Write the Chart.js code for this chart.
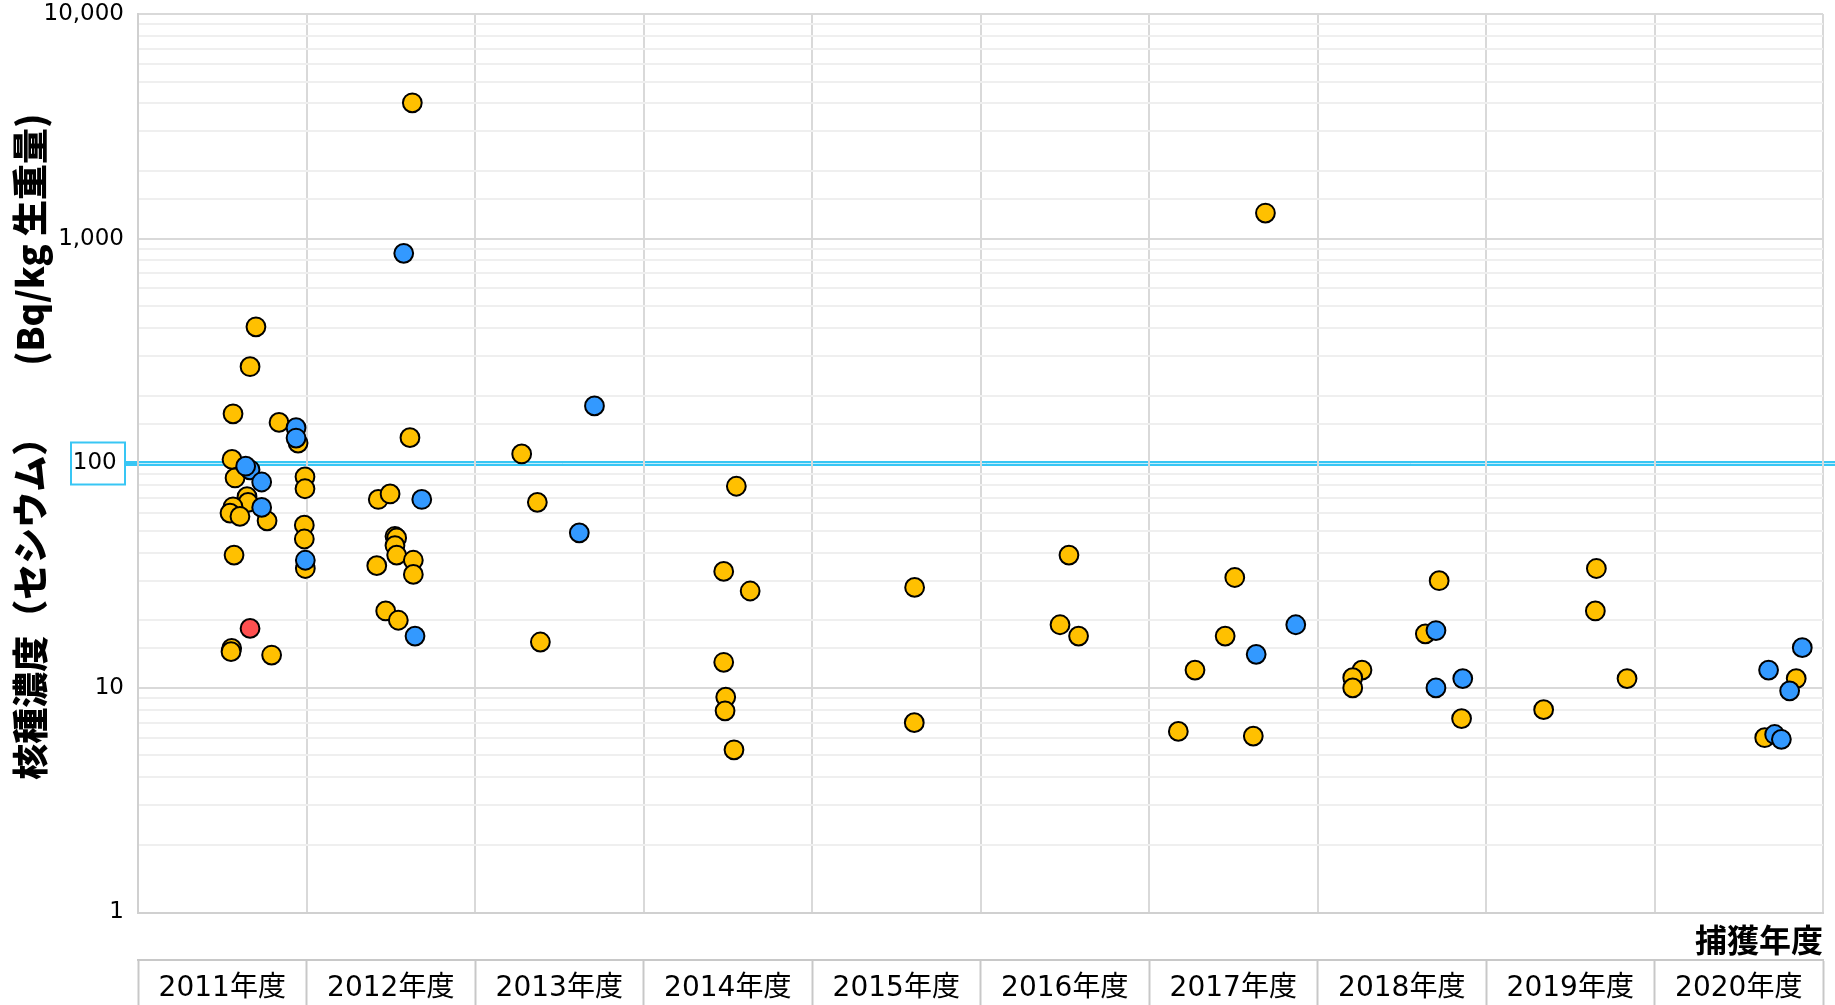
<!DOCTYPE html>
<html lang="ja">
<head>
<meta charset="utf-8">
<title>核種濃度（セシウム）捕獲年度別</title>
<script src="https://cdn.jsdelivr.net/npm/chart.js@4.4.1/dist/chart.umd.min.js"></script>
<style>
    html, body { margin: 0; padding: 0; background: #fff; }
    #wrap { width: 1835px; height: 1005px; }
</style>
</head>
<body>
<div id="wrap"><canvas id="chart" width="1835" height="1005"></canvas></div>
<script>
// ─── Данные ────────────────────────────────────────────────────────────────

const categories = ["2011年度", "2012年度", "2013年度", "2014年度", "2015年度",
    "2016年度", "2017年度", "2018年度", "2019年度", "2020年度"];

// y-метки лог-шкалы (только декады подписаны)
const yTickLabels = {1: "1", 10: "10", 100: "100 ", 1000: "1,000", 10000: "10,000"};

const LIMIT = 100;  // базовый уровень 100 Bq/kg

// [позиция по оси годов (индекс + смещение внутри года), Bq/kg]
const yellowPoints = [
    [0.700, 405], [0.665, 269], [0.564, 166], [0.837, 152], [0.950, 123], [0.558, 104],
    [0.576, 86], [0.647, 71], [0.653, 67], [0.564, 64], [0.546, 60], [0.605, 58],
    [0.766, 55.4], [0.570, 39], [0.556, 15.0], [0.552, 14.5], [0.793, 14.0],
    [0.991, 87], [0.991, 77], [0.987, 53], [0.987, 46], [0.993, 34],
    [1.628, 4025], [1.614, 130], [1.426, 69], [1.496, 73], [1.525, 47.3], [1.535, 46.5],
    [1.525, 43], [1.535, 39], [1.417, 35], [1.634, 37], [1.634, 32], [1.470, 22], [1.545, 20],
    [2.277, 110], [2.370, 67], [2.388, 16],
    [3.551, 79], [3.476, 33], [3.633, 27], [3.476, 13], [3.488, 9.1], [3.484, 7.9], [3.537, 5.3],
    [4.609, 28], [4.607, 7.0],
    [5.525, 39], [5.472, 19.1], [5.582, 17],
    [6.691, 1300], [6.509, 31], [6.452, 17], [6.273, 12], [6.174, 6.4], [6.619, 6.1],
    [7.722, 30], [7.640, 17.4], [7.264, 12], [7.209, 11.1], [7.209, 10], [7.855, 7.3],
    [8.655, 34], [8.649, 22], [8.837, 11], [8.342, 8.0],
    [9.841, 11], [9.654, 6.0],
];

const bluePoints = [
    [0.938, 144], [0.938, 129.5], [0.665, 93.5], [0.639, 97], [0.734, 82.5], [0.734, 63.6], [0.993, 37],
    [1.577, 860], [1.684, 69], [1.644, 17],
    [2.709, 180], [2.619, 49],
    [6.871, 19.1], [6.636, 14.1],
    [7.703, 18], [7.703, 10], [7.862, 11],
    [9.877, 15.1], [9.677, 12], [9.802, 9.7], [9.713, 6.2], [9.753, 5.9],
];

const redPoints = [
    [0.665, 18.4],
];

// ─── Оформление ────────────────────────────────────────────────────────────

const CYAN = "#38c6f4";
const GRID_MAJOR = "#d9d9d9";
const GRID_MINOR = "#efefef";

const toXY = (pts) => pts.map(([x, y]) => ({x, y}));

function isDecade(v) {
    const l = Math.log10(v);
    return Math.abs(l - Math.round(l)) < 1e-9;
}

function dataset(points, color, order) {
    return {
        data: toXY(points),
        backgroundColor: color,
        borderColor: "#000",
        borderWidth: 2,
        pointRadius: 9.4,
        pointHoverRadius: 9.4,
        order,
    };
}

// Линия 100 Bq/kg + рамка вокруг подписи «100» (рисуется под сеткой)
const limitLine = {
    id: "limitLine",
    beforeDraw(chart) {
        const {ctx, chartArea, scales: {y}} = chart;
        const py = Math.round(y.getPixelForValue(LIMIT)) + 0.5;
        const boxRight = chartArea.left - 13;
        ctx.save();
        ctx.strokeStyle = CYAN;
        ctx.lineWidth = 5;
        ctx.beginPath();
        ctx.moveTo(boxRight, py);
        ctx.lineTo(chart.width, py);
        ctx.stroke();
        ctx.strokeStyle = "#c4eefb";
        ctx.lineWidth = 1;
        ctx.beginPath();
        ctx.moveTo(chartArea.left, py);
        ctx.lineTo(chart.width, py);
        ctx.stroke();
        ctx.strokeStyle = CYAN;
        ctx.lineWidth = 2;
        ctx.strokeRect(boxRight - 54, py - 21, 54, 42);
        ctx.restore();
    },
};

new Chart(document.getElementById("chart"), {
    type: "scatter",
    data: {
        datasets: [
            dataset(yellowPoints, "#ffc000", 3),
            dataset(bluePoints, "#3399ff", 2),
            dataset(redPoints, "#ff5050", 1),
        ],
    },
    options: {
        responsive: false,
        animation: false,
        layout: {padding: {top: 14, right: 12, left: 0, bottom: 0}},
        plugins: {
            legend: {display: false},
            tooltip: {enabled: false},
        },
        scales: {
            x: {
                type: "linear",
                min: 0,
                max: categories.length,
                weight: 0,
                afterFit: (s) => { s.height = 47.5; },
                ticks: {display: false, stepSize: 1, autoSkip: false},
                grid: {color: GRID_MAJOR, lineWidth: 2, drawTicks: false},
                border: {display: true, color: "#d0d0d0", width: 2},
                title: {
                    display: true,
                    text: "捕獲年度",
                    align: "end",
                    color: "#000",
                    font: {family: "'Noto Sans CJK JP'", size: 32, weight: "bold"},
                    padding: {top: 0, bottom: 1},
                },
            },
            x2: {
                type: "category",
                position: "bottom",
                labels: categories,
                offset: true,
                weight: 1,
                afterFit: (s) => { s.height = 45; },
                grid: {
                    offset: true,
                    drawOnChartArea: false,
                    drawTicks: true,
                    tickLength: 45,
                    tickColor: "#c8c8c8",
                    tickWidth: 2,
                },
                border: {display: true, color: "#c8c8c8", width: 2},
                ticks: {
                    autoSkip: false,
                    maxRotation: 0,
                    padding: -33,
                    color: "#000",
                    font: {family: "'DejaVu Sans', 'Noto Sans CJK JP'", size: 28},
                },
            },
            y: {
                type: "logarithmic",
                min: 1,
                max: 10000,
                afterFit: (s) => { s.width = 138; },
                ticks: {
                    autoSkip: false,
                    padding: 0,
                    color: "#000",
                    font: {family: "'DejaVu Sans'", size: 23},
                    callback: (v) => yTickLabels[v] ?? "",
                },
                grid: {
                    drawTicks: true,
                    tickLength: 14,
                    tickColor: "rgba(0,0,0,0)",
                    lineWidth: 2,
                    color: (c) => {
                        const v = c.tick?.value;
                        if (v === LIMIT) return "rgba(0,0,0,0)";
                        return v !== undefined && isDecade(v) ? GRID_MAJOR : GRID_MINOR;
                    },
                },
                border: {display: true, color: "#d0d0d0", width: 2},
                title: {
                    display: true,
                    text: "    核種濃度（セシウム）　　(Bq/kg 生重量)",
                    color: "#000",
                    font: {family: "'Noto Sans CJK JP'", size: 36, weight: "900"},
                    padding: {top: 9, bottom: 0},
                },
            },
        },
    },
    plugins: [limitLine],
});
</script>
</body>
</html>
